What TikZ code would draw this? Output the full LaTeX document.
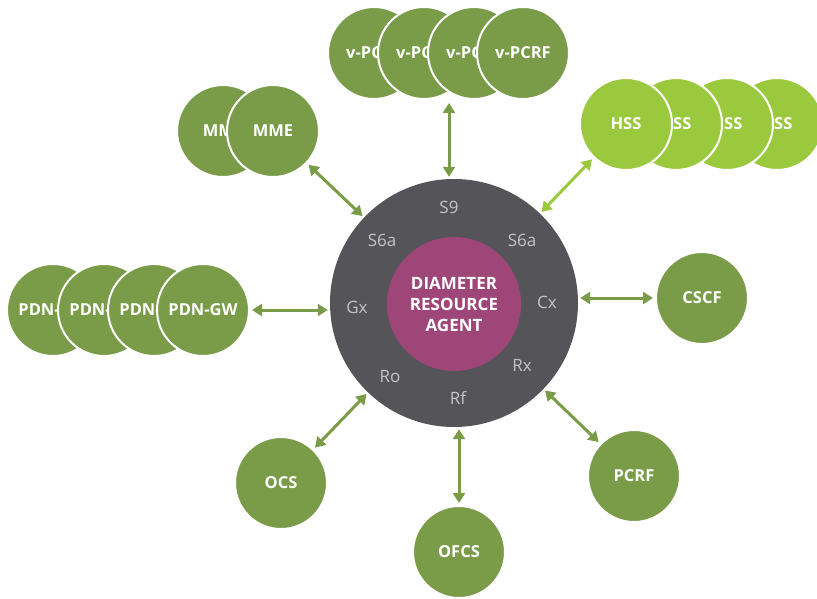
\documentclass[tikz,border=0pt]{standalone}
\usepackage{fontspec}
\setmainfont{Open Sans}
\usetikzlibrary{arrows.meta}
\definecolor{nodegreen}{HTML}{7A9C48}
\definecolor{hssgreen}{HTML}{9BC93E}
\definecolor{ringgray}{HTML}{555458}
\definecolor{coremagenta}{HTML}{9E4677}
\definecolor{labelgray}{HTML}{C4C4C4}
\begin{document}
\begin{tikzpicture}[x=1pt,y=-1pt,
  unit/.style={circle,minimum size=92pt,inner sep=0pt,fill=nodegreen,draw=white,line width=2pt,text=white,font=\bfseries\fontsize{16.5}{19}\selectfont},
  hssunit/.style={unit,fill=hssgreen},
  iflabel/.style={text=labelgray,font=\fontsize{17}{20}\selectfont,inner sep=0pt},
  link/.style={draw=nodegreen,line width=3pt,{Triangle[length=10pt,width=12pt]}-{Triangle[length=10pt,width=12pt]},shorten <=2pt,shorten >=2pt},
  hsslink/.style={link,draw=hssgreen}]
\useasboundingbox (0,0) rectangle (817,599);

% central agent
\node[circle,fill=ringgray,minimum size=248pt,inner sep=0pt] (dra) at (454,303) {};
\node[circle,fill=coremagenta,minimum size=134pt,inner sep=0pt,text=white,align=center,
      font=\bfseries\fontsize{17}{21}\selectfont] (core) at (454,304) {DIAMETER\\RESOURCE\\AGENT};

% interface labels
\node[iflabel] (lS9) at (449,207) {S9};
\node[iflabel] (lS6aL) at (382,240) {S6a};
\node[iflabel] (lS6aR) at (522,240) {S6a};
\node[iflabel] (lGx) at (357,307) {Gx};
\node[iflabel] (lCx) at (547,302) {Cx};
\node[iflabel] (lRx) at (522,365) {Rx};
\node[iflabel] (lRo) at (390,377) {Ro};
\node[iflabel] (lRf) at (458,398) {Rf};

% v-PCRF stack (rightmost in front)
\node[unit] (vp1) at (374,53) {v-PCRF};
\node[unit] (vp2) at (424,53) {v-PCRF};
\node[unit] (vp3) at (474,53) {v-PCRF};
\node[unit] (vp4) at (523,53) {v-PCRF};

% MME stack
\node[unit] (mme1) at (223,131) {MME};
\node[unit] (mme2) at (273,131) {MME};

% HSS stack (leftmost in front)
\node[hssunit] (hss4) at (777,124) {HSS};
\node[hssunit] (hss3) at (727,124) {HSS};
\node[hssunit] (hss2) at (676,124) {HSS};
\node[hssunit] (hss1) at (626,124) {HSS};

% PDN-GW stack
\node[unit] (pdn1) at (53,310) {PDN-GW};
\node[unit] (pdn2) at (104,310) {PDN-GW};
\node[unit] (pdn3) at (154,310) {PDN-GW};
\node[unit] (pdn4) at (203,310) {PDN-GW};

% single units
\node[unit] (cscf) at (702,298) {CSCF};
\node[unit] (pcrf) at (634,476) {PCRF};
\node[unit] (ofcs) at (459,552) {OFCS};
\node[unit] (ocs) at (281,483) {OCS};

% connectors
\coordinate (vlink) at (449,101);
\draw[link] (vlink) -- (vlink |- dra.north);
\draw[link] (mme2) -- (dra);
\draw[hsslink] (hss1) -- (dra);
\draw[link] (pdn4.east) -- (pdn4.east -| dra.west);
\draw[link] (cscf.west) -- (cscf.west -| dra.east);
\draw[link] (pcrf) -- (dra);
\draw[link] (ofcs.north) -- (ofcs.north |- dra.south);
\draw[link] (ocs) -- (dra);
\end{tikzpicture}
\end{document}
